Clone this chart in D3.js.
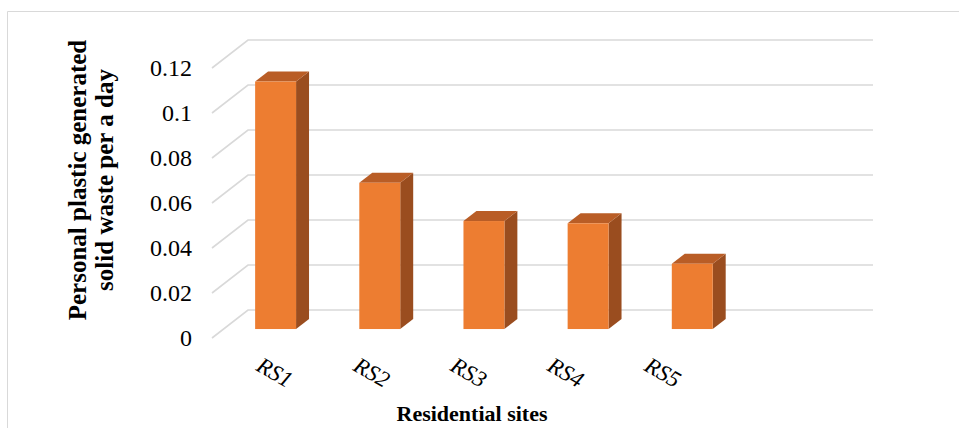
<!DOCTYPE html>
<html>
<head>
<meta charset="utf-8">
<script src="https://cdn.jsdelivr.net/npm/d3@7"></script>
<style>
  body { margin: 0; background: #fff; }
  svg { display: block; }
  text { font-family: 'Liberation Serif', 'Times New Roman', Times, serif; }
</style>
</head>
<body>
<svg id="chart" width="959" height="428"></svg>
<script>
// Data
const sites = ["RS1", "RS2", "RS3", "RS4", "RS5"];
const waste = [0.11, 0.065, 0.048, 0.047, 0.029];
const yTicks = [0, 0.02, 0.04, 0.06, 0.08, 0.1, 0.12];

const svg = d3.select('#chart');

// frame of the chart area
svg.append('path')
    .attr('d', 'M7.5,428 V11.5 H959')
    .attr('fill', 'none')
    .attr('stroke', '#d9d9d9')
    .attr('stroke-width', 1);

// back wall and depth
const wallLeft = 248, wallRight = 873;
const depth = {x: -36, y: 28};
const fFront = 0.68, fBack = 0.32;

const y = d3.scaleLinear().domain([0, 0.12]).range([310, 40]);
const x = d3.scaleBand()
    .domain(sites)
    .range([0, (wallRight - wallLeft) * 5 / 6])
    .paddingInner(0.607)
    .paddingOuter(0.3035);

// gridlines: back wall line + diagonal on the side wall
const grid = svg.append('g');
yTicks.forEach(function (t) {
    grid.append('path')
        .attr('d', 'M' + (wallLeft + depth.x) + ',' + (y(t) + depth.y) +
            ' L' + wallLeft + ',' + y(t) + ' H' + wallRight)
        .attr('fill', 'none')
        .attr('stroke', '#d9d9d9')
        .attr('stroke-width', 1.6);
});

// tick labels
svg.append('g').selectAll('text')
    .data(yTicks)
    .join('text')
        .attr('x', 192)
        .attr('y', d => y(d) + depth.y)
        .attr('dy', '0.35em')
        .attr('text-anchor', 'end')
        .style('font-size', '24px')
        .attr('fill', '#000')
        .text(d => d3.format('~g')(d));

// bars
const fx = wallLeft + depth.x * fFront, fy = depth.y * fFront;
const bx = depth.x * (fBack - fFront), by = depth.y * (fBack - fFront);
const bars = svg.append('g');
sites.forEach(function (s, i) {
    const x0 = fx + x(s), x1 = x0 + x.bandwidth();
    const top = y(waste[i]) + fy, bot = y(0) + fy;
    // side
    bars.append('polygon')
        .attr('points', [[x1, top], [x1 + bx, top + by], [x1 + bx, bot + by], [x1, bot]].join(' '))
        .attr('fill', '#9a4d1f');
    // top
    bars.append('polygon')
        .attr('points', [[x0, top], [x1, top], [x1 + bx, top + by], [x0 + bx, top + by]].join(' '))
        .attr('fill', '#b95d26');
    // front
    bars.append('rect')
        .attr('x', x0)
        .attr('y', top)
        .attr('width', x.bandwidth())
        .attr('height', bot - top)
        .attr('fill', '#ed7d31');
});

// category labels (rotated, italic)
const xl = d3.scalePoint().domain(sites).range([275, 663]);
svg.append('g').selectAll('text')
    .data(sites)
    .join('text')
        .attr('transform', d => 'translate(' + xl(d) + ',372) rotate(30)')
        .attr('text-anchor', 'middle')
        .attr('dy', '0.35em')
        .style('font-style', 'italic')
        .style('font-size', '23px')
        .text(d => d);

// axis titles
svg.append('text')
    .attr('x', 472)
    .attr('y', 421)
    .attr('text-anchor', 'middle')
    .style('font-weight', 'bold')
    .style('font-size', '22px')
    .text('Residential sites');

const yt = svg.append('text')
    .attr('transform', 'translate(91,180) rotate(-90)')
    .attr('text-anchor', 'middle')
    .style('font-weight', 'bold')
    .style('font-size', '25px');
yt.append('tspan').attr('x', 0).attr('y', -5).text('Personal plastic generated');
yt.append('tspan').attr('x', 0).attr('y', 22).text('solid waste per a day');
</script>
</body>
</html>
